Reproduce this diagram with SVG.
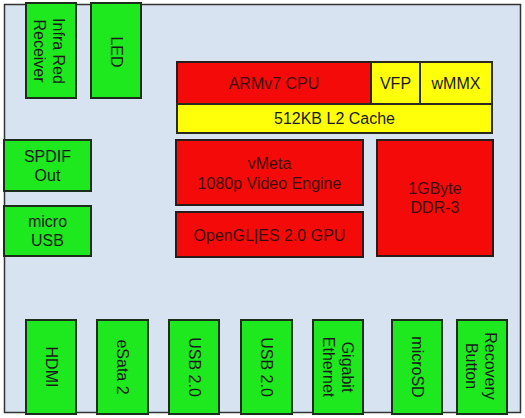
<svg xmlns="http://www.w3.org/2000/svg" width="525" height="418" viewBox="0 0 525 418">
<style>
.board{fill:#d8e3f1;stroke:#333;stroke-width:1.5}
.g{fill:#1ee81e;stroke:#1a2e1a;stroke-width:2}
.r{fill:#f50a0a;stroke:#2a1a1a;stroke-width:2}
.y{fill:#ffff0a;stroke:#2a2a1a;stroke-width:2}
text{font-family:"Liberation Sans",Arial,sans-serif;font-size:16px;fill:#1a1a1a;text-anchor:middle;dominant-baseline:central}
.rt{fill:#3a0a0a}
</style>
<rect class="board" x="4.5" y="4.5" width="516" height="408"/>
<g id="connectors"/>
<g id="infra-red"><rect class="g" x="26" y="3" width="50" height="95"/><text transform="translate(49,51) rotate(90)"><tspan x="0" y="-9.5">Infra Red</tspan><tspan x="0" y="9.5">Receiver</tspan></text></g>
<g id="led"><rect class="g" x="91" y="3" width="50" height="95"/><text transform="translate(116,52) rotate(90)">LED</text></g>
<g id="spdif"><rect class="g" x="4" y="140" width="87" height="51"/><text x="47.5" y="156">SPDIF</text><text x="47.5" y="175">Out</text></g>
<g id="micro-usb"><rect class="g" x="4" y="206" width="87" height="50"/><text x="47.5" y="221.5">micro</text><text x="47.5" y="240.5">USB</text></g>
<g id="cpu"><rect class="r" x="177" y="62" width="194" height="42"/><text class="rt" x="274" y="83">ARMv7 CPU</text></g>
<g id="vfp"><rect class="y" x="371" y="62" width="49" height="42"/><text x="395.5" y="83">VFP</text></g>
<g id="wmmx"><rect class="y" x="420" y="62" width="72" height="42"/><text x="456" y="83">wMMX</text></g>
<g id="l2"><rect class="y" x="177" y="104" width="315" height="29"/><text x="334.5" y="118.5">512KB L2 Cache</text></g>
<g id="vmeta"><rect class="r" x="176" y="140" width="187" height="65"/><text class="rt" x="269.5" y="163">vMeta</text><text class="rt" x="269.5" y="183">1080p Video Engine</text></g>
<g id="gpu"><rect class="r" x="176" y="212" width="187" height="45"/><text class="rt" x="269.5" y="235">OpenGL|ES 2.0 GPU</text></g>
<g id="ddr"><rect class="r" x="377" y="140" width="116" height="116"/><text class="rt" x="435" y="188">1GByte</text><text class="rt" x="435" y="207">DDR-3</text></g>
<g id="hdmi"><rect class="g" x="26" y="320" width="50" height="94"/><text transform="translate(51,367) rotate(90)">HDMI</text></g>
<g id="esata"><rect class="g" x="97" y="320" width="51" height="94"/><text transform="translate(122.5,367) rotate(90)">eSata 2</text></g>
<g id="usb1"><rect class="g" x="169" y="320" width="50" height="94"/><text transform="translate(194,367) rotate(90)">USB 2.0</text></g>
<g id="usb2"><rect class="g" x="241" y="320" width="51" height="94"/><text transform="translate(266.5,367) rotate(90)">USB 2.0</text></g>
<g id="gigabit"><rect class="g" x="313" y="320" width="50" height="94"/><text transform="translate(338,367) rotate(90)"><tspan x="0" y="-9.5">Gigabit</tspan><tspan x="0" y="9.5">Ethernet</tspan></text></g>
<g id="microsd"><rect class="g" x="392" y="320" width="50" height="94"/><text transform="translate(417,367) rotate(90)">microSD</text></g>
<g id="recovery"><rect class="g" x="457" y="320" width="50" height="94"/><text transform="translate(481,366) rotate(90)"><tspan x="0" y="-9.5">Recovery</tspan><tspan x="0" y="9.5">Button</tspan></text></g>
</svg>
